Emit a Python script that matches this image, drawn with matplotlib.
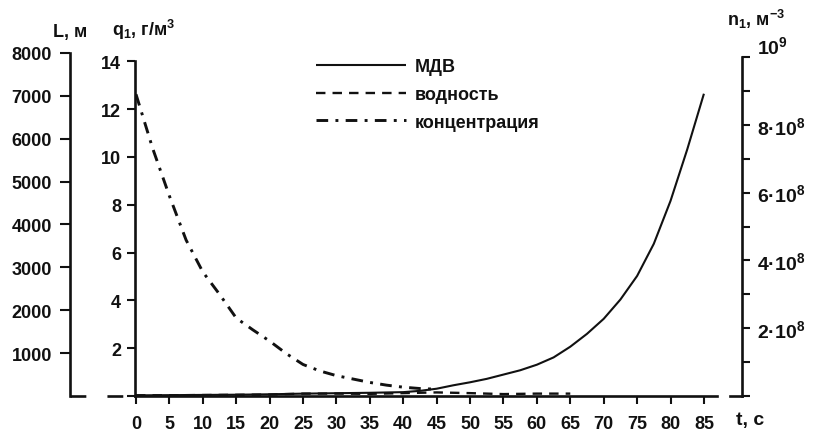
import matplotlib.pyplot as plt

# время, с / МДВ, м
t_mdv = [0, 5, 10, 15, 20, 25, 30, 35, 40, 42.5, 45, 47.5, 50, 52.5, 55, 57.5,
         60, 62.5, 65, 67.5, 70, 72.5, 75, 77.5, 80, 82.5, 85]
mdv_m = [15, 20, 25, 30, 40, 55, 65, 75, 90, 120, 170, 250, 320, 400, 500, 600,
         730, 900, 1150, 1450, 1800, 2250, 2800, 3550, 4550, 5750, 7050]

# водность, г/м3
t_water = [0, 5, 10, 15, 20, 25, 30, 35, 40, 45, 50, 55, 60, 65]
water_gm3 = [0.03, 0.03, 0.04, 0.05, 0.06, 0.1, 0.1, 0.09, 0.12, 0.15, 0.12,
             0.08, 0.1, 0.1]

# концентрация, м-3
t_conc = [0, 2.5, 5, 7.5, 10, 12.5, 15, 17.5, 20, 22.5, 25, 27.5, 30, 32.5,
          35, 37.5, 40, 42.5, 45]
conc_m3 = [8.9e8, 7.3e8, 5.9e8, 4.6e8, 3.66e8, 3.0e8, 2.3e8, 1.95e8, 1.62e8,
           1.25e8, 0.93e8, 0.74e8, 0.6e8, 0.5e8, 0.4e8, 0.32e8, 0.26e8,
           0.22e8, 0.2e8]

t_ticks = list(range(0, 90, 5))
L_ticks = [1000, 2000, 3000, 4000, 5000, 6000, 7000, 8000]
q_ticks = [0, 2, 4, 6, 8, 10, 12, 14]
q_labels = ["", "2", "4", "6", "8", "10", "12", "14"]
n_ticks = [i * 1e8 for i in range(11)]
n_labels = ["", "", "2·10$^8$", "", "4·10$^8$", "", "6·10$^8$",
            "", "8·10$^8$", "", "10$^9$"]

INK = "#111111"
plt.rcParams.update({
    "font.family": ["Liberation Sans", "DejaVu Sans"],
    "font.weight": "bold",
    "font.size": 13,
    "mathtext.fontset": "custom",
    "mathtext.rm": "Liberation Sans:bold",
    "mathtext.default": "regular",
    "text.color": INK,
    "axes.edgecolor": INK,
    "xtick.color": INK,
    "ytick.color": INK,
})

W, H = 820, 435
fig = plt.figure(figsize=(W / 100, H / 100), dpi=100)
ax = fig.add_axes([135 / W, 38 / H, 607 / W, 343 / H])   # q axis (host)
axL = ax.twinx()                                          # L axis, far left
axN = ax.twinx()                                          # n axis, right

SPW = 1.9
for a in (ax, axL, axN):
    for s in a.spines.values():
        s.set_visible(False)
        s.set_linewidth(SPW)

# host: q axis + time axis
ax.spines["left"].set_visible(True)
ax.spines["bottom"].set_visible(True)
ax.set_xlim(-0.15, 90.7)
ax.set_ylim(0, 14.35)
ax.spines["left"].set_bounds(0, 14)
ax.spines["bottom"].set_bounds(-0.15, 87.0)
ax.set_xticks(t_ticks)
ax.set_xticklabels([str(v) for v in t_ticks])
ax.set_yticks(q_ticks)
ax.set_yticklabels(q_labels)
ax.tick_params(axis="both", direction="out", length=6, width=1.5,
               labelsize=13, pad=4)
ax.tick_params(axis="x", pad=8)

# L axis
axL.spines["left"].set_visible(True)
axL.spines["left"].set_position(("outward", 65 * 0.72))
axL.yaxis.set_ticks_position("left")
axL.set_ylim(0, 8000)
axL.set_yticks(L_ticks)
axL.tick_params(axis="y", direction="out", length=7, width=1.5,
                labelsize=13, pad=6)

# n axis
axN.spines["right"].set_visible(True)
axN.set_ylim(0, 1.0118e9)
axN.spines["right"].set_bounds(0, 1e9)
axN.set_yticks(n_ticks)
axN.set_yticklabels(n_labels)
axN.tick_params(axis="y", direction="out", length=6, width=1.5,
                labelsize=14, pad=5)
axN.get_yticklabels()[-1].set_verticalalignment("bottom")

# curves
l1, = axL.plot(t_mdv, mdv_m, color=INK, lw=1.5, solid_capstyle="butt")
l2, = ax.plot(t_water, water_gm3, color=INK, lw=1.7, ls=(0, (4, 3)))
l3, = axN.plot(t_conc, conc_m3, color=INK, lw=2.1, ls=(0, (4, 2.5, 1, 2.5)))

# dashed baseline between L and q axes, short piece at the n axis
ax.plot([-65 / 607, 0], [0, 0], transform=ax.transAxes, clip_on=False,
        color=INK, lw=SPW, ls=(0, (6, 8)))
axN.plot([(730 - 135) / 607, 1.0], [0, 0], transform=axN.transAxes,
         clip_on=False, color=INK, lw=SPW)

leg = ax.legend([l1, l2, l3], ["МДВ", "водность", "концентрация"],
                loc="upper left", bbox_to_anchor=(316 / W, 1 - 59 / H),
                bbox_transform=fig.transFigure, frameon=False, fontsize=13,
                borderpad=0, borderaxespad=0, handlelength=5.0,
                handletextpad=0.45, labelspacing=0.6)
leg.set_zorder(10)

# axis captions
fig.text(53 / W, 1 - 32 / H, "L, м", ha="left", va="center", fontsize=13)
fig.text(112 / W, 1 - 30 / H, r"q$_1$, г/м$^3$", ha="left", va="center",
         fontsize=13)
fig.text(727 / W, 1 - 19 / H, r"n$_1$, м$^{-3}$", ha="left", va="center",
         fontsize=13)
fig.text(736 / W, 1 - 421 / H, "t, с", ha="left", va="center", fontsize=14)

fig.savefig("out.png", dpi=100, facecolor="white")
